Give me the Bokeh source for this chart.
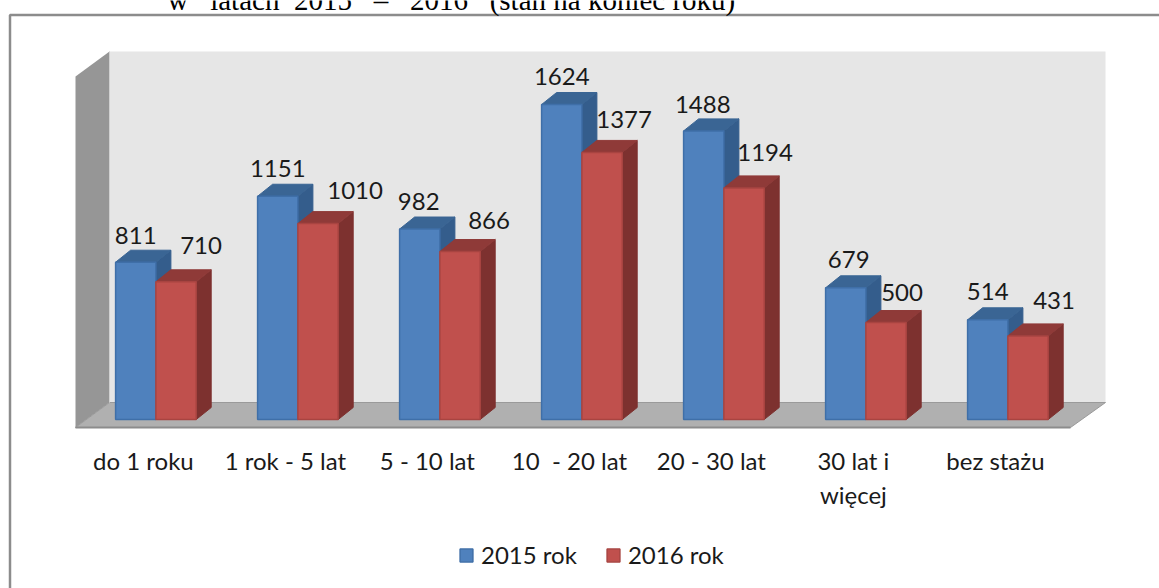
from bokeh.plotting import figure
from bokeh.models import Range1d, Legend, LegendItem
from bokeh.embed import file_html
from bokeh.resources import INLINE
from bokeh.core.properties import value

categories = ["do 1 roku", "1 rok - 5 lat", "5 - 10 lat", "10\u00a0\u00a0- 20 lat", "20 - 30 lat", "30 lat i\nwięcej", "bez stażu"]
values_2015 = [811, 1151, 982, 1624, 1488, 679, 514]
values_2016 = [710, 1010, 866, 1377, 1194, 500, 431]
series_names = ["2015 rok", "2016 rok"]
title_text = "w\u00a0\u00a0\u00a0latach\u00a0\u00a02015\u00a0\u00a0\u00a0–\u00a0\u00a0\u00a02016\u00a0\u00a0\u00a0(stan na koniec roku)"

W, H = 1159, 588
STEP = 142.0
X0 = 155.4
Y0 = 419.0
SCALE = 315.0 / 1624.0

def ux(px):
    return (px - X0) / STEP

def uy(py):
    return (Y0 - py) / SCALE

# label placement (pixels relative to the bar's centre / top)
lbl_dx_2015 = [0, 0, -1, 0, -1, 3, 0]
lbl_dx_2016 = [25, 37, 29, 22, 21, 16, 26]
lbl_up_2015 = [27, 28, 28, 28, 26, 28, 28]
lbl_up_2016 = [36, 33, 31, 33, 35, 30, 35]

p = figure(width=W, height=H, output_backend="svg", toolbar_location=None,
           x_range=Range1d(ux(0), ux(W)), y_range=Range1d(uy(H), uy(0)),
           min_border=0, outline_line_color=None, background_fill_color="white",
           border_fill_color="white", margin=0)
p.axis.visible = False
p.grid.visible = False

n = len(categories)
# outer frame (open on the right and at the bottom)
p.line([ux(9.5), ux(9.5), ux(W)], [uy(H), uy(14.5), uy(14.5)],
       line_color="#8c8c8c", line_width=2.5)

# walls and floor
back_l, back_r = ux(109), ux(1105)
front_l, front_r = ux(75), ux(1070)
back_t, back_b, front_b, left_t = uy(51), uy(402), uy(427), uy(76)
p.patch([back_l, back_r, back_r, back_l], [back_b, back_b, back_t, back_t], fill_color="#e6e6e6", line_color=None)
p.patch([front_l, back_l, back_l, front_l], [left_t, back_t, back_b, front_b], fill_color="#969696", line_color=None)
p.patch([front_l, back_l, back_r, front_r], [front_b, back_b, back_b, front_b], fill_color="#b0b0b0",
        line_color="#9a9a9a", line_width=1)
p.line([front_l, front_r], [front_b, front_b], line_color="#8c8c8c", line_width=2)
p.line([back_l, back_l], [back_b, back_t], line_color="#d0d0d0", line_width=1)

BW = 40.3 / STEP
DX = 15.0 / STEP
DY = 12.0 / SCALE


def draw(vals, offset, front, border, top, side):
    xl = [i + offset for i in range(n)]
    xr = [x + BW for x in xl]
    tx = [[a, a + DX, b + DX, b] for a, b in zip(xl, xr)]
    ty = [[v, v + DY, v + DY, v] for v in vals]
    sx = [[b, b + DX, b + DX, b] for b in xr]
    sy = [[0, DY, v + DY, v] for v in vals]
    p.patches(sx, sy, fill_color=side, line_color=side, line_width=1)
    p.patches(tx, ty, fill_color=top, line_color=top, line_width=1)
    return p.quad(left=xl, right=xr, bottom=[0] * n, top=vals, fill_color=front, line_color=border, line_width=1.5)


r1 = draw(values_2015, -BW, "#4f81bd", "#3f6fa8", "#3a6594", "#345d8c")
r2 = draw(values_2016, 0.0, "#c0504d", "#a84441", "#8f3a38", "#7d312f")

FONT = value("Lato")
COL = "#1a1a1a"
FS = "24px"

lx = [i - BW / 2 + d / STEP for i, d in enumerate(lbl_dx_2015)] + [i + BW / 2 + d / STEP for i, d in enumerate(lbl_dx_2016)]
ly = [v + u / SCALE for v, u in zip(values_2015, lbl_up_2015)] + [v + u / SCALE for v, u in zip(values_2016, lbl_up_2016)]
lt = [str(v) for v in values_2015 + values_2016]
p.text(lx, ly, text=lt, text_align="center", text_baseline="middle", text_font=FONT,
       text_font_size=FS, text_color=COL)

cat_lines_x, cat_lines_y, cat_lines_t = [], [], []
for i, c in enumerate(categories):
    for j, part in enumerate(c.split("\n")):
        cat_lines_x.append(i - 12.5 / STEP)
        cat_lines_y.append(uy(459.5 + 34 * j))
        cat_lines_t.append(part)
p.text(cat_lines_x, cat_lines_y, text=cat_lines_t, text_align="center", text_baseline="middle",
       text_font=FONT, text_font_size=FS, text_color=COL)

p.text([ux(167)], [uy(-1)], text=[title_text], text_align="left", text_baseline="alphabetic",
       text_font=value("Liberation Serif"), text_font_size="29px", text_color="#000000")

legend = Legend(items=[LegendItem(label=series_names[0], renderers=[r1]),
                       LegendItem(label=series_names[1], renderers=[r2])],
                orientation="horizontal", location=(458, 19), background_fill_alpha=0,
                border_line_color=None, label_text_font="Lato", label_text_font_size=FS,
                label_text_color=COL, glyph_width=16, glyph_height=16, spacing=28,
                label_standoff=7, margin=0, padding=8)
p.add_layout(legend, "center")

open("out.html", "w").write(file_html(p, INLINE))
